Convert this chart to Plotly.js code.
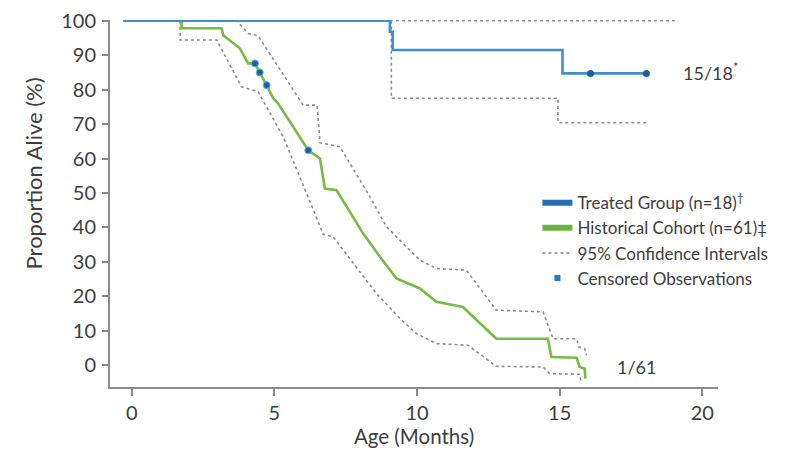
<!DOCTYPE html>
<html>
<head>
<meta charset="utf-8">
<script src="https://cdn.plot.ly/plotly-3.0.1.min.js"></script>
<style>html,body{margin:0;padding:0;background:#fff;}#chart{width:798px;height:452px;}</style>
</head>
<body>
<div id="chart"></div>
<script>
// Treated group (n=18)
const treatedX = [-0.3, 9.05, 9.15, 15.1, 18.04];
const treatedY = [100, 96.8, 91.5, 84.7, 84.7];
const treatedUpperX = [9.05, 19.03];
const treatedUpperY = [100, 100];
const treatedLowerX = [9.1, 9.1, 14.94, 18.04];
const treatedLowerY = [100, 77.5, 70.4, 70.4];
const treatedCensorX = [16.08, 18.04];
const treatedCensorY = [84.7, 84.7];

// Historical cohort (n=61)
const histX = [0, 1.75, 1.75, 3.15, 3.21, 3.79, 4.08, 4.32, 4.49, 4.73, 4.96, 5.13, 6.01, 6.19, 6.6, 6.77, 7.18, 8.11, 8.7, 9.28, 10.1, 10.68, 11.61, 12.78, 14.59, 14.71, 15.59, 15.7, 15.88, 15.9];
const histY = [100, 100, 97.8, 97.8, 95.8, 92.0, 87.6, 87.6, 85.0, 81.3, 77.5, 76.0, 64.9, 62.4, 60.0, 51.3, 50.8, 38.3, 31.5, 25.2, 22.3, 18.4, 16.9, 7.7, 7.7, 2.4, 2.2, -0.5, -1.0, -3.9];
const histUpperX = [1.75, 3.68, 4.08, 4.43, 6.01, 6.5, 6.6, 7.3, 8.35, 8.93, 9.75, 10.1, 10.68, 11.73, 12.78, 14.42, 14.77, 15.59, 15.68, 15.88, 15.94];
const histUpperY = [100, 100, 96.3, 95.6, 75.5, 75.5, 64.6, 63.4, 48.9, 40.2, 33.4, 30.5, 28.1, 27.6, 16.0, 15.5, 7.7, 7.7, 5.3, 4.8, 2.9];
const histLowerX = [1.7, 1.7, 2.98, 3.85, 4.43, 5.31, 6.36, 6.71, 7.06, 8.58, 9.4, 9.98, 10.68, 11.79, 12.78, 14.42, 14.65, 15.7, 15.76];
const histLowerY = [100, 94.4, 94.4, 80.8, 79.4, 66.3, 45.3, 38.0, 37.3, 20.8, 13.6, 9.2, 6.3, 5.8, -0.3, -0.5, -2.4, -2.6, -5.3];
const histCensorX = [4.32, 4.49, 4.73, 6.19];
const histCensorY = [87.6, 85.0, 81.3, 62.4];

const xTicks = [0, 5, 10, 15, 20];
const yTicks = [0, 10, 20, 30, 40, 50, 60, 70, 80, 90, 100];

const legendNames = ['Treated Group (n=18)<sup>†</sup>', 'Historical Cohort (n=61)‡', '95% Confidence Intervals', 'Censored Observations'];
const annotTexts = ['15/18<sup>*</sup>', '1/61'];
const xTitle = 'Age (Months)';
const yTitle = 'Proportion Alive (%)';

const FONT = 'Lato, "Open Sans", sans-serif';
const TXT = '#3d3d3d';
const BLUE = '#3d8fd1';
const GREEN = '#76bb43';
const GREY = '#8c8c8c';
const DARKBLUE = '#1d5f9e';

const traces = [
  {x: treatedUpperX, y: treatedUpperY, mode: 'lines', line: {color: GREY, width: 1.6, dash: 'dot'}, showlegend: false, hoverinfo: 'skip'},
  {x: treatedLowerX, y: treatedLowerY, mode: 'lines', line: {color: GREY, width: 1.6, dash: 'dot', shape: 'hv'}, showlegend: false, hoverinfo: 'skip'},
  {x: histUpperX, y: histUpperY, mode: 'lines', line: {color: GREY, width: 1.6, dash: 'dot'}, showlegend: false, hoverinfo: 'skip'},
  {x: histLowerX, y: histLowerY, mode: 'lines', line: {color: GREY, width: 1.6, dash: 'dot'}, showlegend: false, hoverinfo: 'skip'},
  {x: histX, y: histY, mode: 'lines', line: {color: GREEN, width: 2.6}, showlegend: false},
  {x: treatedX, y: treatedY, mode: 'lines', line: {color: BLUE, width: 2.6, shape: 'hv'}, showlegend: false},
  {x: histCensorX, y: histCensorY, mode: 'markers', marker: {color: DARKBLUE, size: 7, line: {color: '#5fb6e6', width: 1}}, showlegend: false},
  {x: treatedCensorX, y: treatedCensorY, mode: 'markers', marker: {color: DARKBLUE, size: 7}, showlegend: false},
  // legend entries
  {x: [null], y: [null], mode: 'lines', name: legendNames[0], line: {color: '#1f6fb8', width: 6}},
  {x: [null], y: [null], mode: 'lines', name: legendNames[1], line: {color: '#6cb33e', width: 6}},
  {x: [null], y: [null], mode: 'lines', name: legendNames[2], line: {color: '#a0a0a0', width: 2, dash: 'dot'}},
  {x: [null], y: [null], mode: 'markers', name: legendNames[3], marker: {color: '#1f7fc4', size: 6, symbol: 'square'}}
];

const layout = {
  width: 798, height: 452,
  margin: {l: 110, r: 80, t: 20, b: 65},
  paper_bgcolor: '#fff', plot_bgcolor: '#fff',
  font: {family: FONT, color: TXT, size: 18},
  showlegend: true,
  legend: {x: 0.703, y: 0.55, xanchor: 'left', yanchor: 'top', font: {size: 17, color: TXT, family: FONT}, bgcolor: 'rgba(0,0,0,0)', tracegroupgap: 0, itemwidth: 30},
  xaxis: {
    range: [-0.76, 20.55], tickvals: xTicks, ticktext: xTicks.map(String),
    showline: true, linecolor: '#8a8a8a', linewidth: 2, ticks: 'outside', ticklen: 7, tickcolor: '#8a8a8a', tickwidth: 2,
    showgrid: false, zeroline: false, tickfont: {size: 20, color: TXT},
    title: {text: xTitle, font: {size: 20.5, color: TXT}, standoff: 6}
  },
  yaxis: {
    range: [-6.3, 100.2], tickvals: yTicks, ticktext: yTicks.map(String),
    showline: true, linecolor: '#8a8a8a', linewidth: 2, ticks: 'outside', ticklen: 6, tickcolor: '#8a8a8a', tickwidth: 2,
    showgrid: false, zeroline: false, tickfont: {size: 20, color: TXT}, ticklabelstandoff: 2
  },
  annotations: [
    {x: -0.1266, y: 0.582, xref: 'paper', yref: 'paper', text: yTitle, textangle: -90, showarrow: false, xanchor: 'center', yanchor: 'middle', font: {size: 22, color: TXT}},
    {x: 19.25, y: 85, xref: 'x', yref: 'y', text: annotTexts[0], showarrow: false, xanchor: 'left', yanchor: 'middle', font: {size: 18, color: TXT}},
    {x: 16.95, y: -0.5, xref: 'x', yref: 'y', text: annotTexts[1], showarrow: false, xanchor: 'left', yanchor: 'middle', font: {size: 18, color: TXT}}
  ]
};

Plotly.newPlot('chart', traces, layout, {displayModeBar: false, staticPlot: true});
</script>
</body>
</html>
